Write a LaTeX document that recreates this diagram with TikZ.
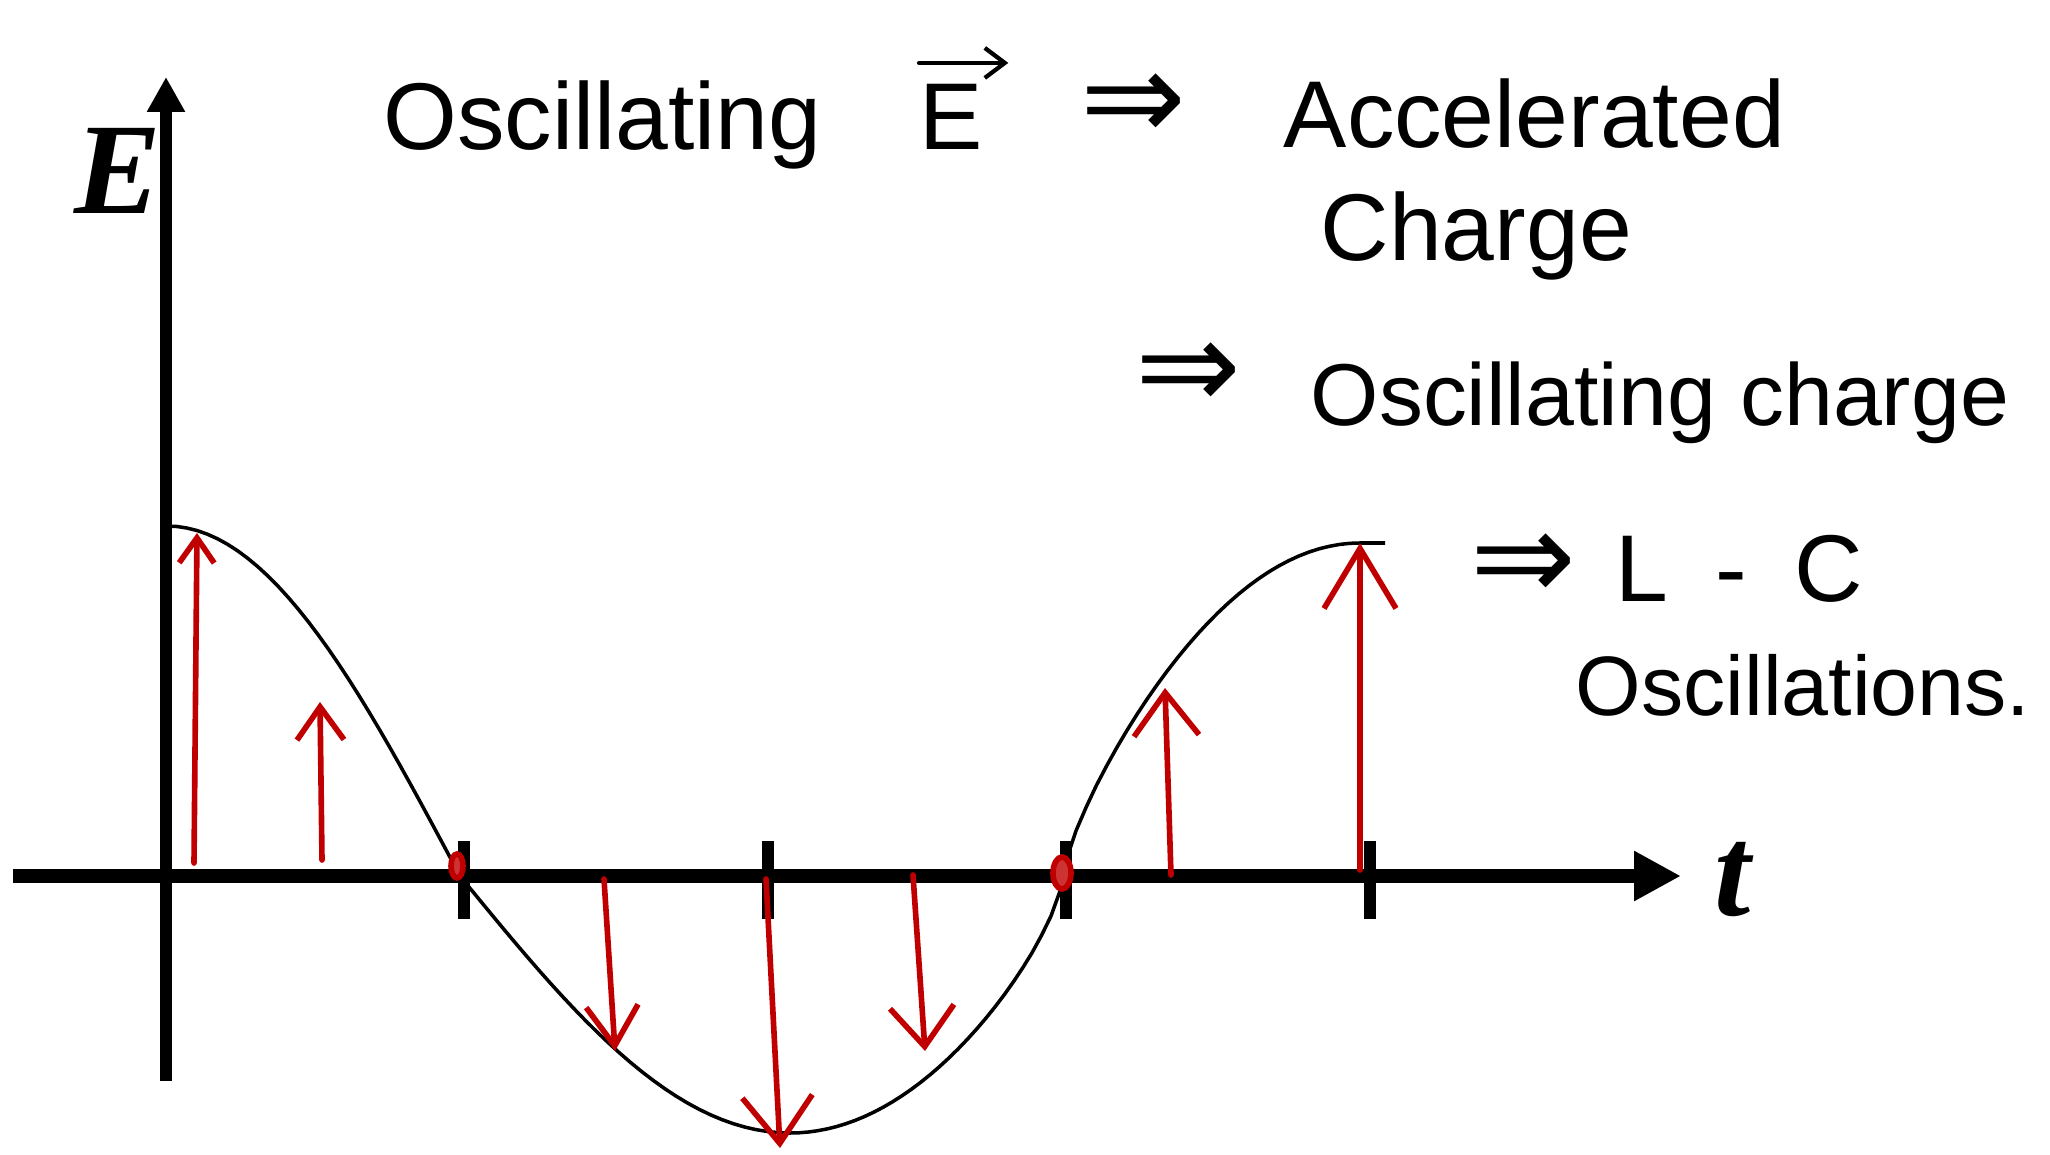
\documentclass[tikz,border=0pt]{standalone}
\usepackage{fontspec}
\setmainfont{Liberation Sans}
\newfontfamily\axisfont{Liberation Serif}
\newfontfamily\arrowfont{DejaVu Sans}
\usetikzlibrary{positioning, arrows.meta}
\definecolor{fieldred}{RGB}{192,0,0}
\tikzset{
    axisline/.style={line width=4pt, draw=black},
    tickmark/.style={line width=3.6pt, draw=black},
    wave/.style={line width=1pt, draw=black},
    fieldvec/.style 2 args={draw=fieldred, line width=1.6pt, line cap=round, -{Straight Barb[length=#1, width=#2]}},
    zeromark/.style={draw=fieldred, fill=fieldred!80, line width=1.6pt},
    note/.style={anchor=base west, inner sep=0pt, font=\fontsize{27}{32}\selectfont},
    implies/.style={inner sep=0pt, font=\arrowfont\fontsize{36}{40}\selectfont},
    axislabel/.style={inner sep=0pt, font=\axisfont\bfseries\itshape\fontsize{37}{40}\selectfont}
}

\begin{document}
\begin{tikzpicture}
\useasboundingbox (0,0) rectangle (20.5,11.54);

% --- Axes ---
\coordinate (xstart) at (0.13,2.78);
\coordinate (xend) at (16.81,2.78);
\coordinate (ybot) at (1.66,0.73);
\coordinate (ytop) at (1.66,10.77);
\draw[axisline, -{Triangle[length=4.7mm, width=4.7mm]}] (xstart) -- (xend);
\draw[axisline, line width=3.5pt, -{Triangle[length=3.5mm, width=3.6mm]}] (ybot) -- (ytop);
\node[axislabel] (Elabel) at (1.18,9.83) {E};
\node[axislabel] (tlabel) at (17.33,2.74) {t};

% ticks
\foreach \x in {4.64, 7.68, 10.66, 13.70}
    \draw[tickmark] (\x,2.35) -- (\x,3.13);

% --- The field E(t), drawn a quarter wave at a time ---
\draw[wave] plot[domain=0:1, samples=30] ({1.67+2.93*\x}, {2.78+3.5*cos(90*\x)})
    -- plot[domain=0:1, samples=30] ({4.60+3.3*\x}, {2.78-2.57*sin(90*\x)})
    -- plot[domain=0:0.99, samples=30] ({7.90+2.73*\x}, {2.78-2.57*cos(90*\x)^0.7})
    -- (10.63,2.78)
    -- plot[domain=0.01:1, samples=30] ({10.63+2.97*\x}, {2.78+3.33*sin(90*\x)^0.75})
    -- (13.85,6.11);

% --- Field vectors ---
\draw[fieldvec={2.5mm}{3.5mm}] (1.94,2.91) -- (1.97,6.21);
\draw[fieldvec={3.3mm}{4.7mm}] (3.22,2.94) -- (3.20,4.52);
\draw[fieldvec={4mm}{5.2mm}] (6.04,2.75) -- (6.15,1.03);
\draw[fieldvec={4.7mm}{7mm}] (7.66,2.75) -- (7.80,0.06);
\draw[fieldvec={4mm}{6.4mm}] (9.13,2.79) -- (9.25,1.03);
\draw[fieldvec={4.3mm}{6.5mm}] (11.71,2.79) -- (11.65,4.66);
\draw[fieldvec={6mm}{7.2mm}] (13.60,2.84) -- (13.60,6.11);

% zero crossings
\draw[zeromark] (4.57,2.88) ellipse (0.06 and 0.12);
\draw[zeromark] (10.62,2.81) ellipse (0.09 and 0.16);

% --- Notes ---
\node[note] (osc) at (3.83,10.04) {Oscillating};
\node[note] (efield) at (9.19,10.04) {E};
\draw[line width=1.2pt, line cap=round, -{Straight Barb[length=2mm, width=3mm]}]
    ([yshift=6pt]efield.north west) -- ([yshift=6pt, xshift=7pt]efield.north east);
\node[implies] (imp1) at (11.33,10.47) {⇒};
\node[note] (accel) at (12.83,10.06) {Accelerated};
\node[note] (charge) at (13.20,8.93) {Charge};
\node[implies] (imp2) at (11.88,7.78) {⇒};
\node[note, font=\fontsize{25}{30}\selectfont] (osccharge) at (13.10,7.29) {Oscillating charge};
\node[implies] (imp3) at (15.23,5.87) {⇒};
\node[note] (lc) at (16.15,5.53) {L\enspace-\enspace C};
\node[note, font=\fontsize{24}{29}\selectfont] (lcosc) at (15.75,4.39) {Oscillations.};

\end{tikzpicture}
\end{document}
